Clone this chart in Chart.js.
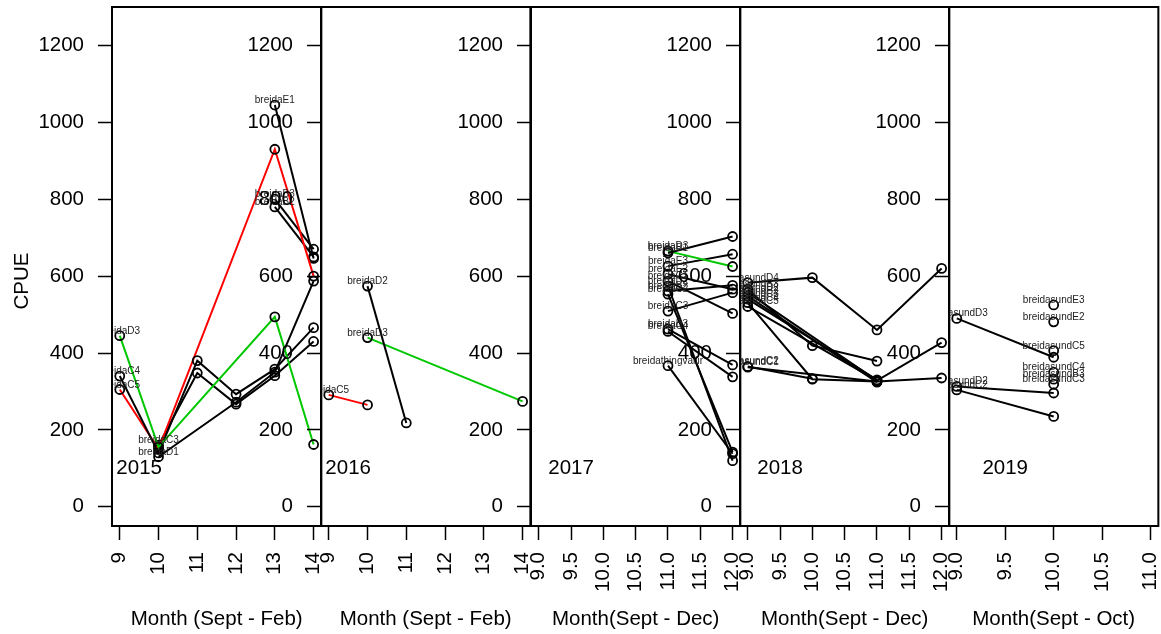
<!DOCTYPE html>
<html>
<head>
<meta charset="utf-8">
<script src="https://cdn.jsdelivr.net/npm/chart.js@4.4.1/dist/chart.umd.min.js"></script>
<style>
  html, body { margin: 0; padding: 0; background: #fff; overflow: hidden; }
  #wrap { position: relative; width: 1161px; height: 634px; overflow: hidden; }
  #wrap canvas { position: absolute; top: 0; }
</style>
</head>
<body>
<div id="wrap"></div>
<script>
// tick labels
const cpueTicks = [0, 200, 400, 600, 800, 1000, 1200];
const monthTicksFeb = [9, 10, 11, 12, 13, 14];
const monthTicksDec = [9, 9.5, 10, 10.5, 11, 11.5, 12];
const monthTicksOct = [9, 9.5, 10, 10.5, 11];

// 2015
const sites2015 = ['breidaD3', 'breidaC4', 'breidaC5', 'breidaC3', 'breidaD1', 'breidaE1', 'breidaB3', 'breidaB2'];
const months2015 = [[9, 10, 13, 14], [9, 10, 11, 12, 13, 14], [9, 10, 13, 14], [10, 11, 12, 13, 14], [10, 12, 13, 14], [13, 14], [13, 14], [13, 14]];
const cpue2015 = [[445, 155, 494, 162], [340, 140, 380, 293, 358, 466], [305, 150, 930, 600], [160, 348, 267, 341, 430], [130, 272, 350, 587], [1045, 646], [800, 670], [780, 650]];
const colors2015 = ['green', 'black', 'red', 'black', 'black', 'black', 'black', 'black'];

// 2016
const sites2016 = ['breidaC5', 'breidaD2', 'breidaD3'];
const months2016 = [[9, 10], [10, 11], [10, 14]];
const cpue2016 = [[291, 265], [574, 218], [440, 274]];
const colors2016 = ['red', 'black', 'green'];

// 2017
const sites2017 = ['breidaB1', 'breidaD3', 'breidaE3', 'breidaE2', 'breidaC1', 'breidaD2', 'breidaB2', 'breidaC2', 'breidaC3', 'breidaB3', 'breidaC4', 'breidathingvallir'];
const months2017 = [[11, 12], [11, 12], [11, 12], [11, 12], [11, 12], [11, 12], [11, 12], [11, 12], [11, 12], [11, 12], [11, 12], [11, 12]];
const cpue2017 = [[660, 703], [665, 625], [626, 657], [605, 566], [587, 503], [574, 120], [561, 576], [553, 142], [509, 557], [462, 369], [456, 338], [367, 138]];
const colors2017 = ['black', 'green', 'black', 'black', 'black', 'black', 'black', 'black', 'black', 'black', 'black', 'black'];

// 2018
const sites2018 = ['breidasundD4', 'breidasundB3', 'breidasundD2', 'breidasundB2', 'breidasundC3', 'breidasundC4', 'breidasundC5', 'breidasundC2', 'breidasundC1'];
const months2018 = [[9, 10, 11, 12], [9, 10, 11], [9, 11, 12], [9, 11], [9, 11], [9, 10, 11], [9, 11], [9, 10], [9, 11, 12]];
const cpue2018 = [[583, 596, 460, 620], [566, 419, 379], [557, 328, 427], [548, 324], [540, 330], [531, 332, 326], [521, 328], [365, 333], [363, 326, 335]];
const colors2018 = ['black', 'black', 'black', 'black', 'black', 'black', 'black', 'black', 'black'];

// 2019
const sites2019 = ['breidasundD3', 'breidasundD2', 'breidasundC2', 'breidasundE3', 'breidasundE2', 'breidasundC5', 'breidasundC4', 'breidasundB3', 'breidasundC3'];
const months2019 = [[9, 10], [9, 10], [9, 10], [10], [10], [10], [10], [10], [10]];
const cpue2019 = [[490, 389], [313, 296], [304, 235], [525], [481], [406], [350], [332], [319]];
const colors2019 = ['black', 'black', 'black', 'black', 'black', 'black', 'black', 'black', 'black'];

const lineColor = { black: '#000000', red: '#ff0000', green: '#00c800' };
const FONT = '"Liberation Sans", Arial, Helvetica, sans-serif';

const panels = [
  { year: '2015', sites: sites2015, months: months2015, cpue: cpue2015, colors: colors2015, xMin: 8.8, xMax: 14.2, xTicks: monthTicksFeb, dec: 0, title: 'Month (Sept - Feb)' },
  { year: '2016', sites: sites2016, months: months2016, cpue: cpue2016, colors: colors2016, xMin: 8.8, xMax: 14.2, xTicks: monthTicksFeb, dec: 0, title: 'Month (Sept - Feb)' },
  { year: '2017', sites: sites2017, months: months2017, cpue: cpue2017, colors: colors2017, xMin: 8.88, xMax: 12.12, xTicks: monthTicksDec, dec: 1, title: 'Month(Sept - Dec)' },
  { year: '2018', sites: sites2018, months: months2018, cpue: cpue2018, colors: colors2018, xMin: 8.88, xMax: 12.12, xTicks: monthTicksDec, dec: 1, title: 'Month(Sept - Dec)' },
  { year: '2019', sites: sites2019, months: months2019, cpue: cpue2019, colors: colors2019, xMin: 8.92, xMax: 11.08, xTicks: monthTicksOct, dec: 1, title: 'Month(Sept - Oct)' }
];

// box, site names, year text and (first panel) the CPUE label
const panelDecor = {
  id: 'panelDecor',
  afterDatasetsDraw(chart, args, opts) {
    const { ctx, chartArea: a, scales: { x, y } } = chart;
    ctx.save();
    ctx.beginPath();
    ctx.rect(a.left, a.top, a.right - a.left, a.bottom - a.top);
    ctx.clip();
    ctx.font = '10px ' + FONT;
    ctx.fillStyle = '#222';
    ctx.textAlign = 'center';
    ctx.textBaseline = 'alphabetic';
    chart.data.datasets.forEach(ds => {
      const p = ds.data[0];
      ctx.fillText(ds.label, x.getPixelForValue(p.x), y.getPixelForValue(p.y) - 2);
    });
    ctx.font = '20.5px ' + FONT;
    ctx.fillStyle = '#000';
    ctx.textBaseline = 'middle';
    ctx.fillText(opts.year, x.getPixelForValue(9.5), y.getPixelForValue(100));
    ctx.restore();

    ctx.save();
    ctx.strokeStyle = '#000';
    ctx.lineWidth = 2;
    ctx.strokeRect(a.left, a.top, a.right - a.left, a.bottom - a.top);
    ctx.restore();

    if (opts.yTitle) {
      ctx.save();
      ctx.font = '20.5px ' + FONT;
      ctx.fillStyle = '#000';
      ctx.textAlign = 'center';
      ctx.textBaseline = 'middle';
      ctx.translate(22, 281);
      ctx.rotate(-Math.PI / 2);
      ctx.fillText(opts.yTitle, 0, 0);
      ctx.restore();
    }
  }
};

const wrap = document.getElementById('wrap');
const AXIS_W = 112, PLOT_W = 209.35, CANVAS_W = 352;

panels.forEach((p, i) => {
  const canvas = document.createElement('canvas');
  canvas.width = CANVAS_W;
  canvas.height = 634;
  canvas.style.left = Math.round(PLOT_W * i) + 'px';
  wrap.appendChild(canvas);

  const datasets = p.sites.map((site, k) => ({
    label: site,
    data: p.months[k].map((m, j) => ({ x: m, y: p.cpue[k][j] })),
    showLine: true,
    borderColor: lineColor[p.colors[k]],
    borderWidth: 2,
    pointRadius: 4.5,
    pointBorderWidth: 1.8,
    pointBorderColor: '#000',
    pointBackgroundColor: 'rgba(0,0,0,0)',
    tension: 0
  }));

  const gridOpts = { drawOnChartArea: false, drawTicks: true, tickLength: 14, tickWidth: 1.5, tickColor: '#000' };

  new Chart(canvas, {
    type: 'scatter',
    data: { datasets },
    options: {
      responsive: false,
      animation: false,
      layout: { padding: { top: 7, right: CANVAS_W - AXIS_W - PLOT_W, bottom: 0, left: 0 } },
      plugins: {
        legend: { display: false },
        tooltip: { enabled: false },
        panelDecor: { year: p.year, yTitle: i === 0 ? 'CPUE' : '' }
      },
      scales: {
        x: {
          type: 'linear',
          min: p.xMin,
          max: p.xMax,
          afterBuildTicks: s => { s.ticks = p.xTicks.map(v => ({ value: v })); },
          afterFit: s => { s.height = 108; s.paddingLeft = 0; s.paddingRight = 0; },
          grid: gridOpts,
          border: { display: false },
          ticks: {
            color: '#000',
            font: { family: FONT, size: 20.5 },
            minRotation: 90,
            maxRotation: 90,
            autoSkip: false,
            padding: 12,
            callback: v => Number(v).toFixed(p.dec)
          },
          title: {
            display: true,
            text: p.title,
            color: '#000',
            font: { family: FONT, size: 20.5 },
            padding: { top: 0, bottom: 2 }
          }
        },
        y: {
          type: 'linear',
          min: -50,
          max: 1300,
          afterBuildTicks: s => { s.ticks = cpueTicks.map(v => ({ value: v })); },
          afterFit: s => { s.width = AXIS_W; s.paddingTop = 0; s.paddingBottom = 0; },
          grid: gridOpts,
          border: { display: false },
          ticks: {
            color: '#000',
            font: { family: FONT, size: 20.5 },
            padding: 14,
            callback: v => String(v)
          }
        }
      }
    },
    plugins: [panelDecor]
  });
});
</script>
</body>
</html>
